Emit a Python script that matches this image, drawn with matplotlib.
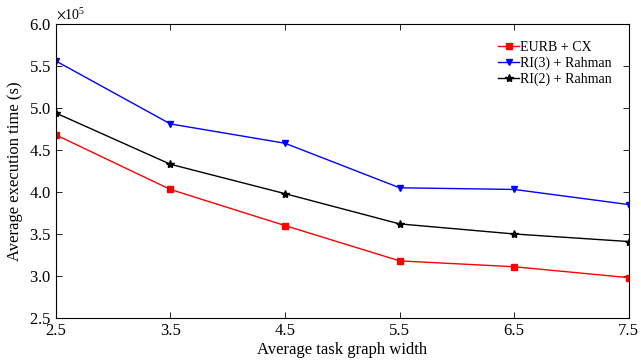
import matplotlib
matplotlib.use("Agg")
import matplotlib.pyplot as plt

# Data
widths = [2.5, 3.5, 4.5, 5.5, 6.5, 7.5]
eurb_cx = [4.68e5, 4.03e5, 3.60e5, 3.18e5, 3.11e5, 2.98e5]
ri3_rahman = [5.56e5, 4.81e5, 4.58e5, 4.05e5, 4.03e5, 3.85e5]
ri2_rahman = [4.94e5, 4.33e5, 3.98e5, 3.62e5, 3.50e5, 3.41e5]
xticks = [2.5, 3.5, 4.5, 5.5, 6.5, 7.5]
yticks = [2.5e5, 3.0e5, 3.5e5, 4.0e5, 4.5e5, 5.0e5, 5.5e5, 6.0e5]

plt.rcParams['font.family'] = ['Liberation Serif', 'DejaVu Serif']
plt.rcParams['mathtext.fontset'] = 'stix'


def main():
    fig = plt.figure(figsize=(6.41, 3.63), dpi=100)
    ax = fig.add_axes([0.087, 0.124, 0.894, 0.81])

    ax.plot(widths, eurb_cx, color='red', marker='s', markersize=4, lw=1, label='EURB + CX')
    ax.plot(widths, ri3_rahman, color='blue', marker='v', markersize=5, lw=1, label='RI(3) + Rahman')
    ax.plot(widths, ri2_rahman, color='black', marker='*', markersize=6, lw=1, label='RI(2) + Rahman')

    ax.set_xlim(2.5, 7.5)
    ax.set_ylim(2.5e5, 6.0e5)
    ax.set_xticks(xticks)
    ax.set_yticks(yticks)
    ax.ticklabel_format(style='sci', axis='y', scilimits=(0, 0), useMathText=True)
    ax.yaxis.get_offset_text().set_fontsize(10)
    ax.tick_params(direction='in', top=True, right=True, labelsize=12, length=4, width=0.6)
    for s in ax.spines.values():
        s.set_linewidth(0.8)

    ax.set_xlabel('Average task graph width', fontsize=12, labelpad=2)
    ax.set_ylabel('Average execution time (s)', fontsize=12, labelpad=4)

    ax.legend(loc='upper right', frameon=False, fontsize=10, handlelength=1.5,
              handletextpad=0.1, labelspacing=0.2, borderaxespad=0.8)

    fig.savefig('out.png', dpi=100)


if __name__ == "__main__":
    main()
